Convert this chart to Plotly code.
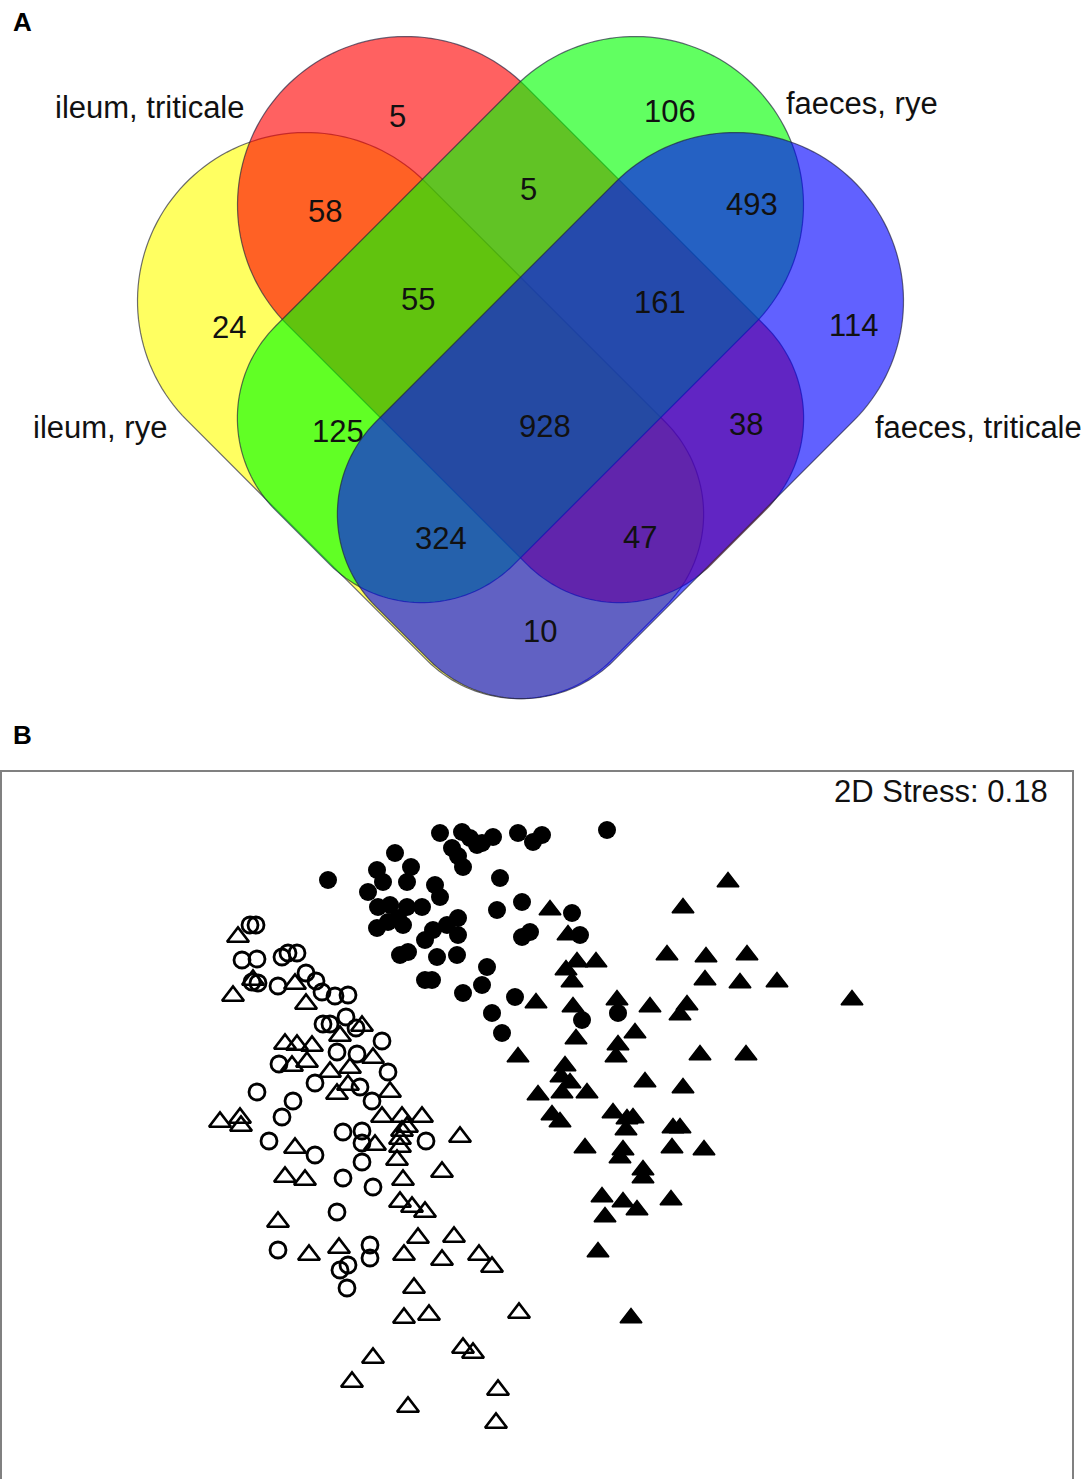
import numpy as np
import plotly.graph_objects as go

W, H = 1086, 1479
FONT = "Liberation Sans, Arial, sans-serif"

# ---------------- Panel A: four-set Venn diagram ----------------
set_names = ["ileum, rye", "ileum, triticale", "faeces, rye", "faeces, triticale"]
set_colors = ["255,255,0", "255,0,0", "0,255,0", "0,0,255"]

# region counts and the sets each region belongs to
# Y = ileum, rye; R = ileum, triticale; G = faeces, rye; B = faeces, triticale
region_members = ["R", "G", "Y", "B", "RY", "RG", "GB", "RGY", "RGB",
                  "GY", "RGYB", "RB", "GYB", "RYB", "YB"]
region_counts = [5, 106, 24, 114, 58, 5, 493, 55, 161, 125, 928, 38, 324, 47, 10]

# ---------------- Panel B: NMDS ordination ----------------
stress_label = "2D Stress: 0.18"

# filled circles
fc_x = [440, 462, 470, 482, 493, 518, 533, 542, 607, 452, 458, 463, 477, 395, 328,
        377, 411, 383, 407, 368, 435, 440, 378, 390, 407, 422, 398, 377, 388, 403,
        458, 447, 433, 425, 458, 400, 408, 437, 457, 425, 432, 487, 482, 463, 500,
        497, 522, 522, 530, 572, 580, 515, 492, 502, 582, 618]
fc_y = [833, 832, 838, 843, 837, 833, 842, 835, 830, 848, 856, 867, 845, 853, 880,
        870, 867, 882, 882, 892, 885, 897, 907, 905, 907, 907, 918, 928, 922, 925,
        918, 925, 930, 940, 935, 955, 952, 957, 955, 980, 980, 967, 985, 993, 878,
        910, 902, 937, 932, 913, 935, 997, 1013, 1033, 1020, 1013]

# filled triangles
ft_x = [550, 728, 683, 568, 566, 577, 596, 572, 667, 706, 747, 705, 740, 777, 852,
        536, 573, 617, 650, 687, 680, 635, 576, 618, 616, 518, 700, 746, 565, 561,
        570, 562, 538, 587, 645, 683, 552, 560, 613, 627, 633, 626, 673, 680, 585,
        623, 620, 672, 704, 643, 643, 602, 623, 637, 605, 671, 598, 631]
ft_y = [910, 882, 908, 935, 970, 962, 962, 982, 955, 957, 955, 980, 983, 982, 1000,
        1003, 1007, 1000, 1007, 1005, 1015, 1033, 1039, 1045, 1057, 1057, 1055, 1055, 1066, 1077,
        1083, 1093, 1095, 1093, 1082, 1088, 1115, 1122, 1113, 1119, 1118, 1130, 1128, 1128, 1148,
        1150, 1158, 1148, 1150, 1170, 1178, 1197, 1202, 1210, 1217, 1200, 1252, 1318]

# open circles
oc_x = [250, 256, 242, 257, 282, 288, 297, 252, 258, 278, 306, 316, 322, 335, 348,
        323, 330, 346, 356, 382, 337, 357, 279, 315, 388, 360, 257, 293, 372, 282,
        343, 362, 362, 269, 315, 426, 362, 343, 373, 337, 278, 370, 370, 348, 340, 347]
oc_y = [925, 925, 960, 959, 957, 953, 953, 982, 983, 986, 973, 981, 992, 996, 995,
        1024, 1024, 1017, 1028, 1041, 1052, 1054, 1064, 1083, 1072, 1087, 1092, 1101, 1101, 1117,
        1132, 1131, 1143, 1141, 1155, 1141, 1162, 1178, 1187, 1212, 1250, 1245, 1258, 1265, 1270, 1288]

# open triangles
ot_x = [238, 233, 253, 295, 306, 362, 340, 285, 297, 312, 292, 307, 330, 350, 373,
        337, 390, 348, 220, 240, 241, 295, 285, 305, 382, 402, 407, 422, 402, 400,
        400, 397, 375, 460, 403, 442, 400, 412, 425, 278, 309, 339, 404, 418, 454,
        442, 479, 492, 414, 404, 429, 519, 463, 473, 373, 352, 498, 408, 496]
ot_y = [937, 996, 980, 984, 1004, 1026, 1036, 1044, 1045, 1046, 1066, 1062, 1072, 1068, 1058,
        1094, 1092, 1085, 1122, 1118, 1126, 1148, 1177, 1180, 1117, 1117, 1127, 1117, 1131, 1139,
        1147, 1160, 1145, 1137, 1180, 1172, 1202, 1207, 1212, 1222, 1255, 1248, 1255, 1238, 1237,
        1260, 1255, 1267, 1288, 1318, 1315, 1313, 1348, 1353, 1358, 1382, 1390, 1407, 1423]


# ---------------- geometry of the Venn shapes ----------------
# each set is a band: round outer end, flat inner end with rounded corners
HALF_W = 168.5      # half width of a band (= radius of the outer end)
BAND_LEN = 470.0    # outer-end centre to flat inner end
CORNER_R = 130.0    # corner radius at the inner end
SQ = 1 / np.sqrt(2)
band_geom = {
    # outer-end centre, unit direction towards the inner end
    "Y": ((306.0, 301.0), (SQ, SQ)),
    "R": ((406.0, 205.0), (SQ, SQ)),
    "G": ((635.0, 205.0), (-SQ, SQ)),
    "B": ((735.0, 301.0), (-SQ, SQ)),
}
band_order = ["Y", "R", "G", "B"]


def band_path(center, direction, h, length, rc, n=80):
    c = np.asarray(center, float)
    u = np.asarray(direction, float)
    v = np.array([-u[1], u[0]])
    local = []
    # outer semicircle
    for t in np.linspace(np.pi / 2, 3 * np.pi / 2, n):
        local.append((h * np.cos(t), h * np.sin(t)))
    # first rounded corner at the inner end
    for t in np.linspace(3 * np.pi / 2, 2 * np.pi, n // 2):
        local.append((length - rc + rc * np.cos(t), -(h - rc) + rc * np.sin(t)))
    # second rounded corner
    for t in np.linspace(0, np.pi / 2, n // 2):
        local.append((length - rc + rc * np.cos(t), (h - rc) + rc * np.sin(t)))
    pts = [c + s * u + q * v for s, q in local]
    return "M " + " L ".join(f"{p[0]:.2f},{p[1]:.2f}" for p in pts) + " Z"


# label anchors for the Venn regions and set names
region_label_xy = {
    "R": (397, 116), "G": (670, 111), "Y": (229, 327), "B": (853, 325),
    "RY": (325, 211), "RG": (528, 189), "GB": (752, 204), "RGY": (418, 299),
    "RGB": (660, 302), "GY": (338, 431), "RGYB": (545, 426), "RB": (746, 424),
    "GYB": (441, 538), "RYB": (640, 537), "YB": (540, 631),
}
set_label_xy = {
    "ileum, rye": (100, 427),
    "ileum, triticale": (150, 107),
    "faeces, rye": (862, 103),
    "faeces, triticale": (978, 427),
}

fig = go.Figure()

shapes = []
code_of = dict(zip(["Y", "R", "G", "B"], set_colors))
for key in band_order:
    c, u = band_geom[key]
    shapes.append(dict(
        type="path", xref="x2", yref="y2",
        path=band_path(c, u, HALF_W, BAND_LEN, CORNER_R),
        fillcolor=f"rgba({code_of[key]},0.62)",
        line=dict(color="rgba(30,30,60,0.65)", width=1.2),
        layer="above",
    ))

# NMDS frame (open at the bottom where the panel is cut)
shapes.append(dict(
    type="path", xref="x", yref="y",
    path="M 1,1500 L 1,771 L 1073,771 L 1073,1500",
    line=dict(color="rgb(128,128,128)", width=2),
    fillcolor="rgba(0,0,0,0)",
))

TEXT_SIZE = 31
annotations = []
for mem, cnt in zip(region_members, region_counts):
    x, y = region_label_xy[mem]
    annotations.append(dict(
        x=x, y=y, xref="x2", yref="y2", text=str(cnt), showarrow=False,
        font=dict(family=FONT, size=TEXT_SIZE, color="#111"),
        xanchor="center", yanchor="middle",
    ))
for name in set_names:
    x, y = set_label_xy[name]
    annotations.append(dict(
        x=x, y=y, xref="x2", yref="y2", text=name, showarrow=False,
        font=dict(family=FONT, size=TEXT_SIZE, color="#111"),
        xanchor="center", yanchor="middle",
    ))

annotations.append(dict(
    x=22, y=22, xref="x2", yref="y2", text="<b>A</b>", showarrow=False,
    font=dict(family=FONT, size=26, color="#000"), xanchor="center", yanchor="middle",
))
annotations.append(dict(
    x=22, y=735, xref="x", yref="y", text="<b>B</b>", showarrow=False,
    font=dict(family=FONT, size=26, color="#000"), xanchor="center", yanchor="middle",
))
annotations.append(dict(
    x=1050, y=791, xref="x", yref="y", text=stress_label, showarrow=False,
    font=dict(family=FONT, size=TEXT_SIZE, color="#111"), xanchor="right", yanchor="middle",
))

# ordination points
fig.add_trace(go.Scatter(
    x=ot_x, y=ot_y, mode="markers", name="open triangles",
    marker=dict(symbol="triangle-up-open", size=19, color="black",
                line=dict(width=2.6, color="black")),
))
fig.add_trace(go.Scatter(
    x=oc_x, y=oc_y, mode="markers", name="open circles",
    marker=dict(symbol="circle-open", size=16, color="black",
                line=dict(width=2.8, color="black")),
))
fig.add_trace(go.Scatter(
    x=ft_x, y=ft_y, mode="markers", name="filled triangles",
    marker=dict(symbol="triangle-up", size=19, color="black",
                line=dict(width=1.5, color="black")),
))
fig.add_trace(go.Scatter(
    x=fc_x, y=fc_y, mode="markers", name="filled circles",
    marker=dict(symbol="circle", size=18, color="black", line=dict(width=0)),
))

top_frac = (H - 720) / H
hidden = dict(showgrid=False, zeroline=False, showticklabels=False, ticks="",
              showline=False, fixedrange=True)

fig.update_layout(
    width=W, height=H,
    margin=dict(l=0, r=0, t=0, b=0),
    paper_bgcolor="white", plot_bgcolor="rgba(0,0,0,0)",
    showlegend=False,
    shapes=shapes,
    annotations=annotations,
    xaxis=dict(domain=[0, 1], range=[0, W], **hidden),
    yaxis=dict(domain=[0, top_frac], range=[H, 720], **hidden),
    xaxis2=dict(domain=[0, 1], range=[0, W], anchor="y2", **hidden),
    yaxis2=dict(domain=[top_frac, 1], range=[720, 0], anchor="x2", **hidden),
)

fig.write_html("out.html")
